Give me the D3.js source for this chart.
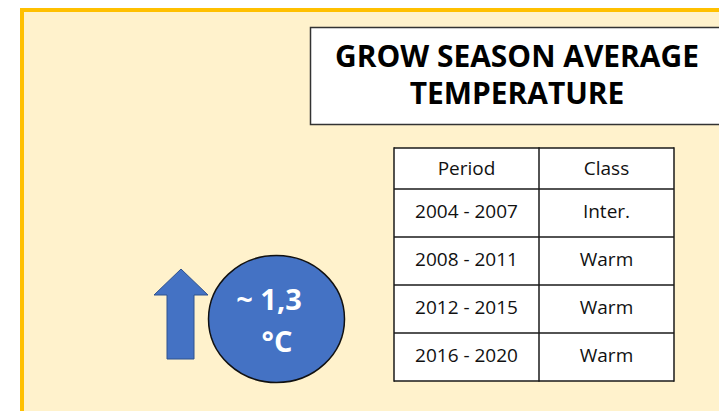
<!DOCTYPE html>
<html>
<head>
<meta charset="utf-8">
<script src="https://cdn.jsdelivr.net/npm/d3@7"></script>
<style>
  html, body { margin: 0; padding: 0; background: #fff; }
  svg { display: block; }
</style>
</head>
<body>
<div id="chart"></div>
<script>
// Data
const titleLines = ["GROW SEASON AVERAGE", "TEMPERATURE"];
const columns = ["Period", "Class"];
const periods = ["2004 - 2007", "2008 - 2011", "2012 - 2015", "2016 - 2020"];
const classes = ["Inter.", "Warm", "Warm", "Warm"];
const changeLines = ["~ 1,3", "°C"];

const width = 719;
const height = 411;
const font = "'Open Sans', 'Noto Sans', sans-serif";

const svg = d3.select("#chart").append("svg")
    .attr("width", width)
    .attr("height", height)
    .attr("viewBox", [0, 0, width, height]);

// panel background with yellow border
svg.append("rect")
    .attr("x", 22).attr("y", 10)
    .attr("width", 720).attr("height", 420)
    .attr("fill", "#FFF2CC")
    .attr("stroke", "#FFC000")
    .attr("stroke-width", 4);

// title box
svg.append("rect")
    .attr("x", 310.5).attr("y", 27.5)
    .attr("width", 430).attr("height", 97)
    .attr("fill", "#fff")
    .attr("stroke", "#333")
    .attr("stroke-width", 1.5);

// fit first title line to the width seen in the picture, reuse that size for line 2
const titleBaselines = [67, 104];
const titleTexts = titleLines.map((line, i) => svg.append("text")
    .attr("x", 517)
    .attr("y", titleBaselines[i])
    .attr("text-anchor", "middle")
    .attr("font-family", font)
    .attr("font-weight", "bold")
    .attr("font-size", 28)
    .attr("fill", "#000")
    .text(line));
const w0 = titleTexts[0].node().getComputedTextLength();
const titleSize = Math.min(30, 28 * 364 / w0);
titleTexts.forEach(t => t.attr("font-size", titleSize.toFixed(2)));

// table
const tableX = 394, tableRight = 674, colSplit = 539;
const headerTop = 148, headerBottom = 189, tableBottom = 381;

const x = d3.scaleOrdinal()
    .domain(columns)
    .range([[tableX, colSplit], [colSplit, tableRight]]);

const y = d3.scaleBand()
    .domain(d3.range(periods.length))
    .range([headerBottom, tableBottom]);

const table = svg.append("g");

table.append("rect")
    .attr("x", tableX).attr("y", headerTop)
    .attr("width", tableRight - tableX).attr("height", tableBottom - headerTop)
    .attr("fill", "#fff");

const cellFont = 19;
const mid = c => (x(c)[0] + x(c)[1]) / 2;

// header
table.selectAll("text.head")
    .data(columns)
    .join("text")
    .attr("class", "head")
    .attr("x", d => mid(d))
    .attr("y", (headerTop + headerBottom) / 2)
    .attr("dy", "0.36em")
    .attr("text-anchor", "middle")
    .attr("font-family", font)
    .attr("font-size", cellFont)
    .attr("fill", "#111")
    .text(d => d);

const rows = periods.map((p, i) => ({i, period: p, cls: classes[i]}));

table.selectAll("text.period")
    .data(rows)
    .join("text")
    .attr("class", "period")
    .attr("x", mid("Period"))
    .attr("y", d => y(d.i) + y.bandwidth() / 2)
    .attr("dy", "0.26em")
    .attr("text-anchor", "middle")
    .attr("font-family", font)
    .attr("font-size", cellFont)
    .attr("fill", "#111")
    .text(d => d.period);

table.selectAll("text.cls")
    .data(rows)
    .join("text")
    .attr("class", "cls")
    .attr("x", mid("Class"))
    .attr("y", d => y(d.i) + y.bandwidth() / 2)
    .attr("dy", "0.26em")
    .attr("text-anchor", "middle")
    .attr("font-family", font)
    .attr("font-size", cellFont)
    .attr("fill", "#111")
    .text(d => d.cls);

// grid lines
const hLines = [headerTop, ...d3.range(periods.length).map(i => y(i)), tableBottom];
table.selectAll("line.h")
    .data(hLines)
    .join("line")
    .attr("x1", tableX).attr("x2", tableRight)
    .attr("y1", d => d).attr("y2", d => d)
    .attr("stroke", "#1a1a1a")
    .attr("stroke-width", 1.5);

table.selectAll("line.v")
    .data([tableX, colSplit, tableRight])
    .join("line")
    .attr("x1", d => d).attr("x2", d => d)
    .attr("y1", headerTop - 0.75).attr("y2", tableBottom + 0.75)
    .attr("stroke", "#1a1a1a")
    .attr("stroke-width", 1.5);

// up arrow
const arrow = d3.path();
arrow.moveTo(181, 269);
arrow.lineTo(208, 295);
arrow.lineTo(194, 295);
arrow.lineTo(194, 359);
arrow.lineTo(167, 359);
arrow.lineTo(167, 295);
arrow.lineTo(154, 295);
arrow.closePath();
svg.append("path")
    .attr("d", arrow.toString())
    .attr("fill", "#4472C4")
    .attr("stroke", "#2F528F")
    .attr("stroke-width", 1);

// value bubble
svg.append("ellipse")
    .attr("cx", 276.5).attr("cy", 319)
    .attr("rx", 68).attr("ry", 63.5)
    .attr("fill", "#4472C4")
    .attr("stroke", "#111")
    .attr("stroke-width", 1.5);

const bubbleCenters = [269, 277];
const bubbleBaselines = [310, 352];
changeLines.forEach((line, i) => {
    svg.append("text")
        .attr("x", bubbleCenters[i])
        .attr("y", bubbleBaselines[i])
        .attr("text-anchor", "middle")
        .attr("font-family", font)
        .attr("font-weight", "bold")
        .attr("font-size", 29)
        .attr("fill", "#fff")
        .text(line);
});
</script>
</body>
</html>
